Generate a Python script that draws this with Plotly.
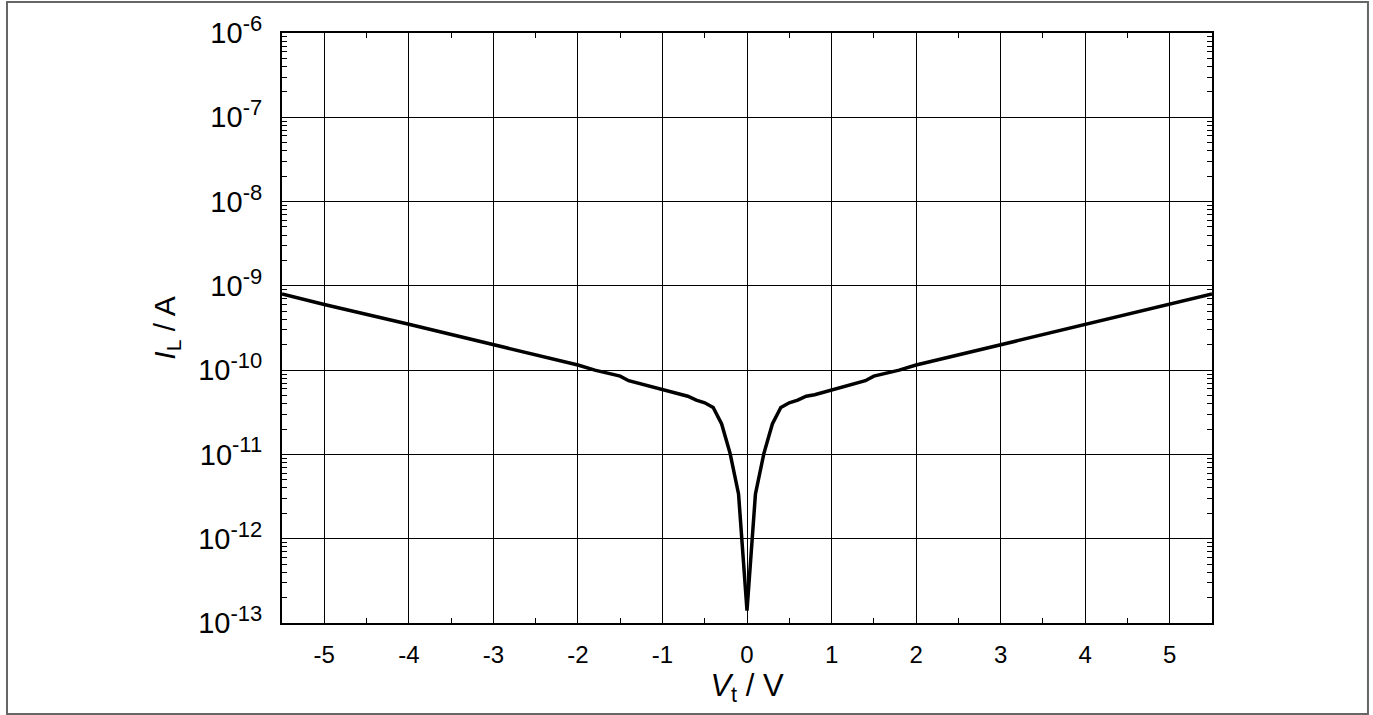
import plotly.graph_objects as go

# measured leakage current vs. voltage
v_t = [-5.5, -5.0, -4.0, -3.0, -2.0, -1.8, -1.6, -1.5, -1.4, -1.2, -1.0, -0.8, -0.7, -0.6, -0.5,
       -0.4, -0.3, -0.2, -0.1, 0.0,
       0.1, 0.2, 0.3, 0.4, 0.5, 0.6, 0.7, 0.8, 1.0, 1.2, 1.4, 1.5, 1.6, 1.8, 2.0, 3.0, 4.0, 5.0, 5.5]
i_l = [8.0e-10, 6.0e-10, 3.5e-10, 2.0e-10, 1.15e-10, 1.0e-10, 9.0e-11, 8.5e-11, 7.5e-11, 6.6e-11,
       5.8e-11, 5.1e-11, 4.9e-11, 4.4e-11, 4.1e-11,
       3.6e-11, 2.3e-11, 1.03e-11, 3.4e-12, 1.4e-13,
       3.4e-12, 1.03e-11, 2.3e-11, 3.6e-11, 4.1e-11, 4.4e-11, 4.9e-11, 5.1e-11, 5.8e-11, 6.6e-11,
       7.5e-11, 8.5e-11, 9.0e-11, 1.0e-10, 1.15e-10, 2.0e-10, 3.5e-10, 6.0e-10, 8.0e-10]

x_ticks = [-5, -4, -3, -2, -1, 0, 1, 2, 3, 4, 5]
y_ticks = [1e-13, 1e-12, 1e-11, 1e-10, 1e-9, 1e-8, 1e-7, 1e-6]
y_exps = ["-13", "-12", "-11", "-10", "-9", "-8", "-7", "-6"]
y_labels = ["10<sup><span style='font-size:22px'>%s</span></sup>" % e for e in y_exps]

fig = go.Figure(go.Scatter(x=v_t, y=i_l, mode="lines",
                           line=dict(color="black", width=3.5)))

fig.update_xaxes(
    range=[-5.5, 5.5], tickvals=x_ticks, ticktext=[str(t) for t in x_ticks],
    showgrid=True, gridcolor="black", gridwidth=1, zeroline=False,
    showline=True, linecolor="black", linewidth=2, mirror="ticks",
    ticks="inside", ticklen=1, tickcolor="black", ticklabelstandoff=9,
    tickfont=dict(size=24),
    minor=dict(dtick=0.5, tick0=0, ticks="inside", ticklen=5, tickcolor="black", showgrid=False),
    title=dict(text="<i>V</i><sub>t</sub> / V", standoff=0, font=dict(size=31)),
)
fig.update_yaxes(
    type="log", range=[-13, -6], tickvals=y_ticks, ticktext=y_labels,
    showgrid=True, gridcolor="black", gridwidth=1, zeroline=False,
    showline=True, linecolor="black", linewidth=2, mirror="ticks",
    ticks="inside", ticklen=8, tickcolor="black", ticklabelstandoff=12,
    tickfont=dict(size=29),
    minor=dict(dtick="D1", ticks="inside", ticklen=5, tickcolor="black", showgrid=False),
    title=dict(text="<i>I</i><sub>L</sub> / A", standoff=14, font=dict(size=30)),
)

fig.update_layout(
    width=1373, height=715,
    margin=dict(l=282, r=161, t=33, b=92),
    paper_bgcolor="white", plot_bgcolor="white",
    font=dict(family="Liberation Sans, Arial, sans-serif", size=24, color="black"),
    showlegend=False,
    shapes=[dict(type="rect", xref="paper", yref="paper",
                 x0=-0.2957, x1=1.1677, y0=-0.1542, y1=1.0525,
                 line=dict(color="#666666", width=2), fillcolor="rgba(0,0,0,0)")],
)

fig.write_html("out.html", config={"displayModeBar": False},
               post_script="document.body.style.margin='0';")
